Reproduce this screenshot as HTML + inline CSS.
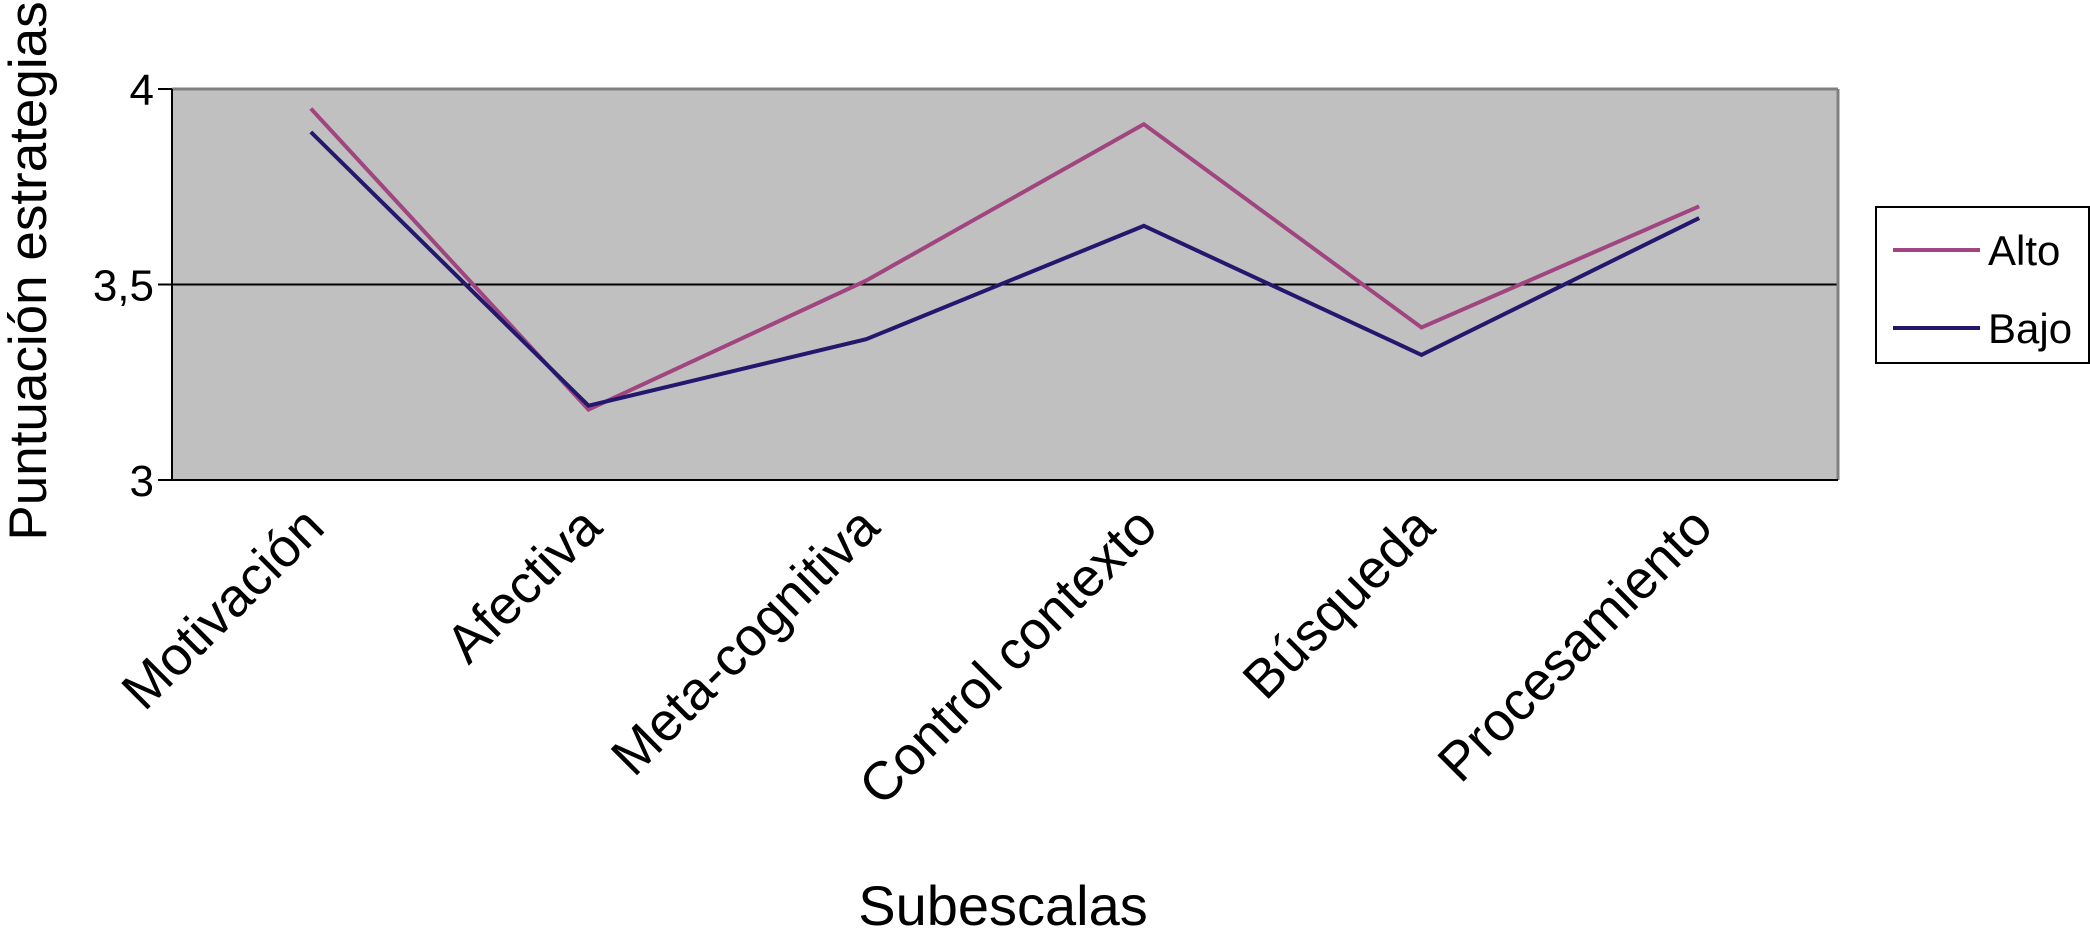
<!DOCTYPE html>
<html><head><meta charset="utf-8"><style>
html,body{margin:0;padding:0;background:#fff;}
svg{display:block;font-family:"Liberation Sans",sans-serif;}
</style></head><body>
<svg id="chart" width="2090" height="941" viewBox="0 0 2090 941">
<rect x="172" y="89" width="1666" height="391" fill="#c0c0c0"/>
<g id="grid"></g>
<line x1="172" y1="89" x2="1838" y2="89" stroke="#808080" stroke-width="3"/>
<line x1="1838" y1="89" x2="1838" y2="480" stroke="#808080" stroke-width="3"/>
<line x1="172" y1="89" x2="172" y2="481" stroke="#000" stroke-width="2"/>
<line x1="172" y1="480" x2="1838" y2="480" stroke="#000" stroke-width="2"/>
<g id="yticks"></g>
<g id="xlabels"></g>
<g id="series"></g>
<text x="46" y="271" font-size="53" text-anchor="middle" transform="rotate(-90 46 271)">Puntuación estrategias</text>
<text x="1003" y="925" font-size="56" text-anchor="middle">Subescalas</text>
<g>
<rect x="1876" y="207" width="213" height="156" fill="#fff" stroke="#000" stroke-width="2"/>
<line x1="1893" y1="250" x2="1980" y2="250" stroke="#a0457f" stroke-width="4"/>
<text x="1988" y="265" font-size="42">Alto</text>
<line x1="1893" y1="328" x2="1980" y2="328" stroke="#24186e" stroke-width="4"/>
<text x="1988" y="343" font-size="42">Bajo</text>
</g>
</svg>
<script>
const categories = ["Motivación","Afectiva","Meta-cognitiva","Control contexto","Búsqueda","Procesamiento"];
const alto = [3.95,3.18,3.51,3.91,3.39,3.70];
const bajo = [3.89,3.19,3.36,3.65,3.32,3.67];
const yTicks = [3,3.5,4];
const yTickLabels = ["3","3,5","4"];
const gridValues = [3.5];
const NS="http://www.w3.org/2000/svg";
const L=172,R=1838,T=89,B=480,ymin=3,ymax=4;
function xs(i){return L+(R-L)/categories.length*(i+0.5);}
function ys(v){return B-(v-ymin)/(ymax-ymin)*(B-T);}
function mk(tag,attrs,parent){const e=document.createElementNS(NS,tag);for(const k in attrs)e.setAttribute(k,attrs[k]);parent.appendChild(e);return e;}
const grid=document.getElementById('grid');
gridValues.forEach(v=>{
const g=mk('line',{x1:L,x2:R,y1:ys(v),y2:ys(v),stroke:'#000','stroke-width':2},grid);


});
const yt=document.getElementById('yticks');
yTicks.forEach((v,i)=>{
const t=mk('line',{x1:158,x2:L,y1:ys(v),y2:ys(v),stroke:'#000','stroke-width':2},yt);


const tx=mk('text',{x:154,y:ys(v)+16,'font-size':44,'text-anchor':'end'},yt);
tx.textContent=yTickLabels[i];


});
const xl=document.getElementById('xlabels');
categories.forEach((c,i)=>{
const x=xs(i)+16,y=530;
const tx=mk('text',{x:x,y:y,'font-size':54,'text-anchor':'end',transform:`rotate(-45 ${x} ${y})`},xl);
tx.textContent=c;


});
const sg=document.getElementById('series');
[[alto,'#a0457f','series-alto'],[bajo,'#24186e','series-bajo']].forEach(([d,col,name])=>{
const p=mk('polyline',{points:d.map((v,i)=>xs(i)+','+ys(v)).join(' '),fill:'none',stroke:col,'stroke-width':4,'stroke-linejoin':'miter'},sg);


});
</script>
</body></html>
